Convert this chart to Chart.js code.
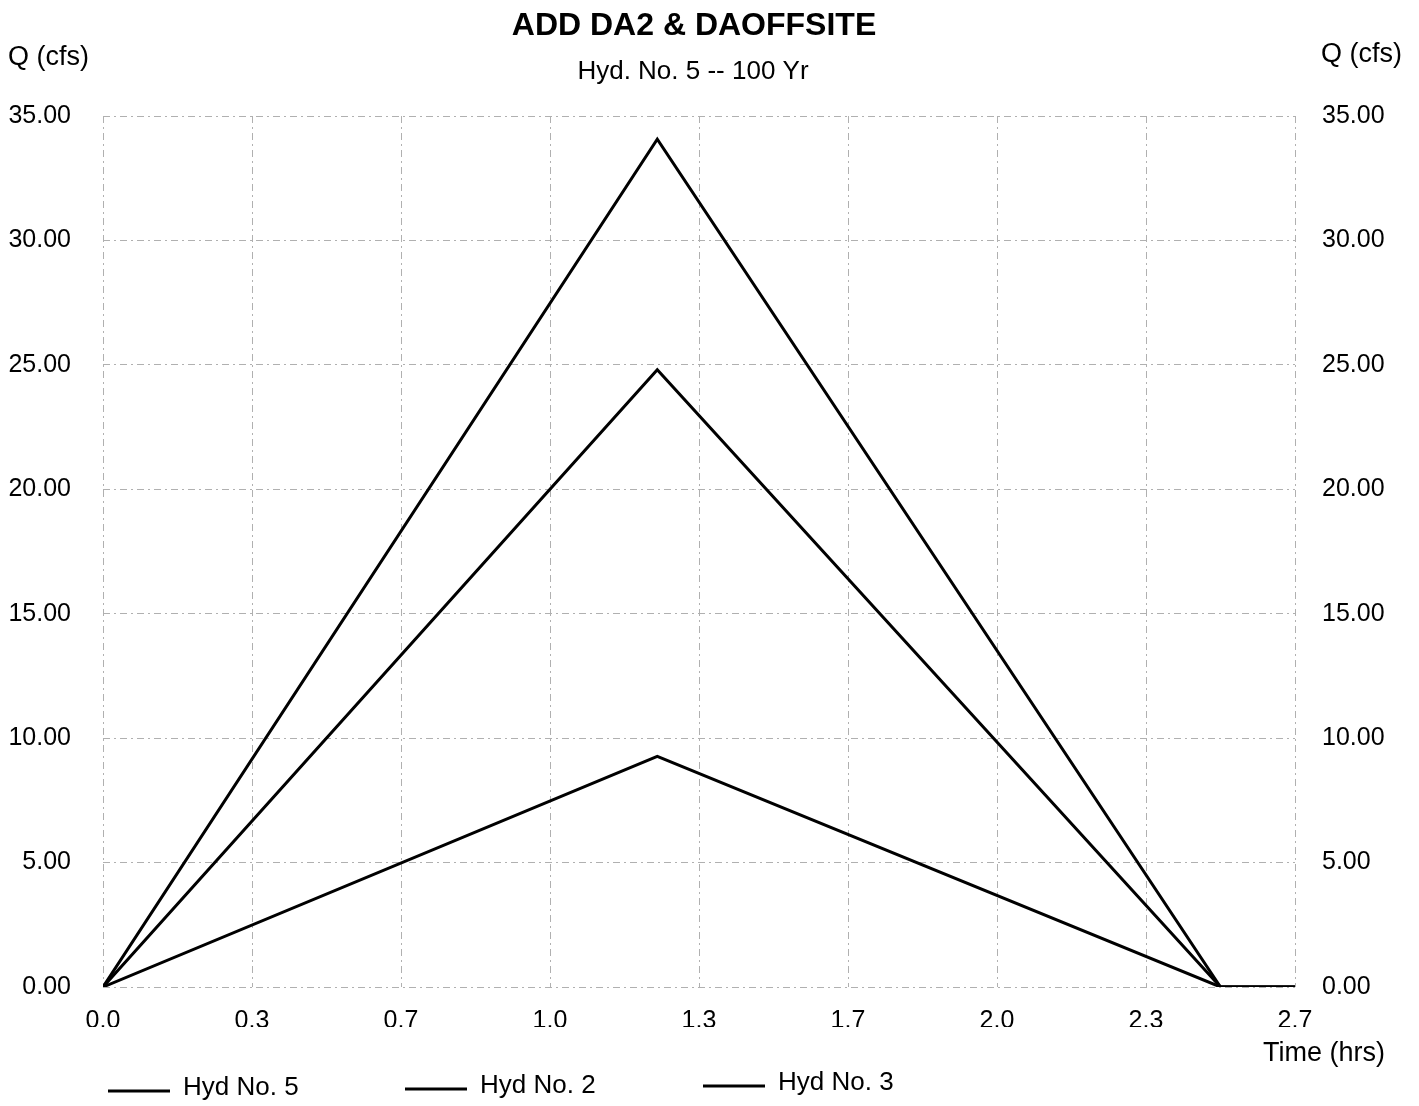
<!DOCTYPE html>
<html>
<head>
<meta charset="utf-8">
<title>ADD DA2 & DAOFFSITE</title>
<script src="https://cdn.jsdelivr.net/npm/chart.js@4/dist/chart.umd.min.js"></script>
<style>
  html, body { margin: 0; padding: 0; background: #fff; }
  #wrap { width: 1419px; height: 1106px; }
</style>
</head>
<body>
<div id="wrap"><canvas id="hydChart"></canvas></div>
<script>
'use strict'

// time (hrs) of the hydrograph points
const timeHrs = [0, 1.24, 2.50, 2.67];
// Q (cfs) for each hydrograph
const hyd5 = [0, 34.07, 0, 0];
const hyd2 = [0, 24.80, 0, 0];
const hyd3 = [0, 9.27, 0, 0];

const seriesNames = ['Hyd No. 5', 'Hyd No. 2', 'Hyd No. 3'];

// axis ticks
const xTickValues = [0, 1/3, 2/3, 1, 4/3, 5/3, 2, 7/3, 8/3];
const xTickLabels = ['0.0', '0.3', '0.7', '1.0', '1.3', '1.7', '2.0', '2.3', '2.7'];
const yTickValues = [0, 5, 10, 15, 20, 25, 30, 35];

const FONT = "'Liberation Sans', Arial, sans-serif";

function toPoints(ys) {
  const pts = [];
  for (let i = 0; i < ys.length; i++) {
    pts.push({ x: timeHrs[i], y: ys[i] });
  }
  return pts;
}

/* textes : titre, sous-titre, libellés d'axes et légende */
const textPlugin = {
  id: 'hydTexts',
  afterDraw(chart) {
    const ctx = chart.ctx;
    ctx.save();
    ctx.fillStyle = '#000';
    ctx.textBaseline = 'middle';

    ctx.textAlign = 'center';
    ctx.font = 'bold 32px ' + FONT;
    ctx.fillText('ADD DA2 & DAOFFSITE', 694, 26);
    ctx.font = '26px ' + FONT;
    ctx.fillText('Hyd. No. 5 -- 100 Yr', 693, 72);

    ctx.textAlign = 'left';
    ctx.font = '27px ' + FONT;
    ctx.fillText('Q (cfs)', 8, 58);
    ctx.fillText('Q (cfs)', 1321, 55);
    ctx.fillText('Time (hrs)', 1263, 1054);

    // légende
    const legendX = [108, 405, 703];
    const legendY = [1088, 1086, 1083];
    chart.data.datasets.forEach((ds, i) => {
      ctx.strokeStyle = ds.borderColor;
      ctx.lineWidth = 3;
      ctx.beginPath();
      ctx.moveTo(legendX[i], legendY[i] + 3);
      ctx.lineTo(legendX[i] + 62, legendY[i] + 3);
      ctx.stroke();
      ctx.font = '26px ' + FONT;
      ctx.fillText(ds.label, legendX[i] + 75, legendY[i]);
    });
    ctx.restore();
  }
};

const ctx1 = document.getElementById('hydChart');

new Chart(ctx1, {
  type: 'line',
  data: {
    datasets: [
      { label: seriesNames[0], data: toPoints(hyd5), borderColor: '#000', borderWidth: 3 },
      { label: seriesNames[1], data: toPoints(hyd2), borderColor: '#000', borderWidth: 3 },
      { label: seriesNames[2], data: toPoints(hyd3), borderColor: '#000', borderWidth: 3 }
    ]
  },
  options: {
    responsive: true,
    maintainAspectRatio: false,
    animation: false,
    elements: { point: { radius: 0 }, line: { tension: 0 } },
    layout: { padding: { top: 116, bottom: 79, left: 0, right: 0 } },
    plugins: {
      legend: { display: false },
      tooltip: { enabled: false }
    },
    scales: {
      x: {
        type: 'linear',
        min: 0,
        max: 8/3,
        afterBuildTicks(scale) {
          scale.ticks = xTickValues.map(v => ({ value: v }));
        },
        afterFit(scale) { scale.height = 40; },
        ticks: {
          padding: 19,
          color: '#000',
          font: { family: FONT, size: 25 },
          callback: (v, i) => xTickLabels[i]
        },
        grid: { color: '#b0b0b0', lineWidth: 1, drawTicks: false },
        border: { display: false, dash: [7, 4, 2, 4] }
      },
      y: {
        position: 'left',
        min: 0,
        max: 35,
        afterBuildTicks(scale) {
          scale.ticks = yTickValues.map(v => ({ value: v }));
        },
        afterFit(scale) { scale.width = 103; },
        ticks: {
          padding: 32,
          color: '#000',
          font: { family: FONT, size: 25 },
          callback: v => v.toFixed(2)
        },
        grid: { color: '#b0b0b0', lineWidth: 1, drawTicks: false },
        border: { display: false, dash: [7, 4, 2, 4] }
      },
      y2: {
        position: 'right',
        min: 0,
        max: 35,
        afterBuildTicks(scale) {
          scale.ticks = yTickValues.map(v => ({ value: v }));
        },
        afterFit(scale) { scale.width = 124; },
        ticks: {
          padding: 27,
          color: '#000',
          font: { family: FONT, size: 25 },
          callback: v => v.toFixed(2)
        },
        grid: { display: false, drawTicks: false },
        border: { display: false }
      }
    }
  },
  plugins: [textPlugin]
});
</script>
</body>
</html>
